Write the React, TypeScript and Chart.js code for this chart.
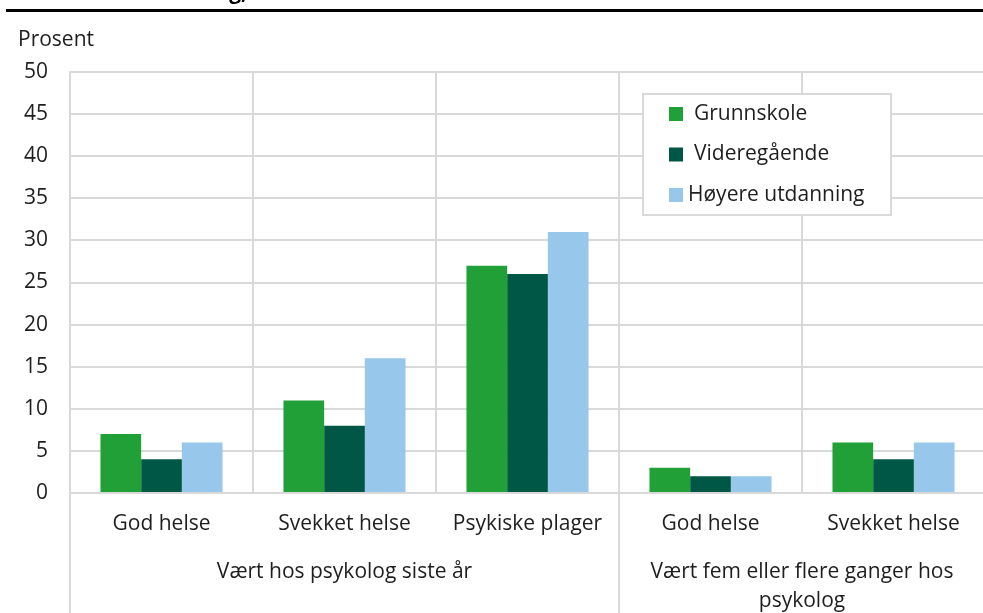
import React, { useEffect, useRef } from "react";
import { Chart, registerables } from "chart.js";

Chart.register(...registerables);

const categories = ["God helse", "Svekket helse", "Psykiske plager", "God helse", "Svekket helse"];
const grunnskole = [7, 11, 27, 3, 6];
const videregaende = [4, 8, 26, 2, 4];
const hoyere = [6, 16, 31, 2, 6];
const seriesNames = ["Grunnskole", "Videregående", "Høyere utdanning"];
const groupLabels = [["Vært hos psykolog siste år"], ["Vært fem eller flere ganger hos", "psykolog"]];
const groupStart = [0, 3];
const groupEnd = [2, 4];
const yTicks = [0, 5, 10, 15, 20, 25, 30, 35, 40, 45, 50];
const yAxisTitle = "Prosent";
const titleFragment = "utdanning,";

const COLORS = ["#21a038", "#005746", "#97c7eb"];
const GRID = "#d9d9d9";
const TEXT = "#1e1e1e";
const FONT = "'Open Sans', sans-serif";
const FS = 21;

const annotations = {
  id: "annotations",
  afterDraw(chart: any) {
    const { ctx, chartArea, scales } = chart;
    const x = scales.x;
    const H = chart.height;
    ctx.save();
    // top rule and title fragment
    ctx.fillStyle = "#000";
    ctx.fillRect(6, 9, chart.width, 3);
    ctx.font = `bold ${FS}px ${FONT}`;
    ctx.textAlign = "right";
    ctx.textBaseline = "alphabetic";
    ctx.fillText(titleFragment, 247, -1);

    // y axis title
    ctx.fillStyle = TEXT;
    ctx.font = `${FS}px ${FONT}`;
    ctx.textAlign = "left";
    ctx.textBaseline = "middle";
    ctx.fillText(yAxisTitle, 18, 40);

    const half = (x.getPixelForValue(1) - x.getPixelForValue(0)) / 2;
    // category labels
    ctx.textAlign = "center";
    categories.forEach((c, i) => {
      ctx.fillText(c, x.getPixelForValue(i), 524);
    });
    // group separators
    ctx.strokeStyle = GRID;
    ctx.lineWidth = 2;
    groupStart.forEach((s) => {
      const px = x.getPixelForValue(s) - half;
      ctx.beginPath();
      ctx.moveTo(px, chartArea.bottom);
      ctx.lineTo(px, H);
      ctx.stroke();
    });
    // group labels
    groupLabels.forEach((lines, g) => {
      const left = x.getPixelForValue(groupStart[g]) - half;
      const right = x.getPixelForValue(groupEnd[g]) + half;
      const cx = (left + right) / 2;
      lines.forEach((l, k) => {
        ctx.fillText(l, cx, 572 + k * 29);
      });
    });

    // legend
    const bx = 643, by = 94, bw = 248, bh = 121;
    ctx.fillStyle = "#fff";
    ctx.fillRect(bx, by, bw, bh);
    ctx.strokeStyle = GRID;
    ctx.lineWidth = 2;
    ctx.strokeRect(bx, by, bw, bh);
    const textX = [694, 694, 688];
    seriesNames.forEach((n, i) => {
      const cy = 114 + i * 40.5;
      ctx.fillStyle = COLORS[i];
      ctx.fillRect(669, cy - 7, 14, 14);
      ctx.fillStyle = TEXT;
      ctx.textAlign = "left";
      ctx.textBaseline = "middle";
      ctx.fillText(n, textX[i], cy);
    });
    ctx.restore();
  },
};

export default function App() {
  const ref = useRef<HTMLCanvasElement>(null);
  useEffect(() => {
    if (!ref.current) return;
    const data = [grunnskole, videregaende, hoyere];
    const chart = new Chart(ref.current, {
      type: "bar",
      data: {
        labels: categories,
        datasets: data.map((d, i) => ({
          label: seriesNames[i],
          data: d,
          backgroundColor: COLORS[i],
          borderWidth: 0,
          categoryPercentage: 0.667,
          barPercentage: 1,
        })),
      },
      options: {
        animation: false,
        responsive: false,
        devicePixelRatio: 1,
        layout: { padding: { top: 72, left: 0, right: 5, bottom: 0 } },
        plugins: { legend: { display: false }, tooltip: { enabled: false }, title: { display: false } },
        scales: {
          x: {
            offset: true,
            grid: { offset: true, color: GRID, lineWidth: 2, drawTicks: false },
            border: { color: GRID, width: 2 },
            ticks: { display: false },
            afterFit: (s: any) => {
              s.height = 120;
            },
          },
          y: {
            min: 0,
            max: 50,
            afterBuildTicks: (s: any) => {
              s.ticks = yTicks.map((v) => ({ value: v }));
            },
            grid: { color: GRID, lineWidth: 2, drawTicks: false },
            border: { color: GRID, width: 2 },
            ticks: { color: TEXT, font: { family: FONT, size: FS }, padding: 22 },
            afterFit: (s: any) => {
              s.width = 70;
            },
          },
        },
      },
      plugins: [annotations],
    });
    return () => chart.destroy();
  }, []);
  return (
    <div style={{ position: "absolute", left: 0, top: 0, width: 983, height: 613, overflow: "hidden", background: "#fff" }}>
      <canvas ref={ref} width={990} height={613} style={{ display: "block" }} />
    </div>
  );
}
